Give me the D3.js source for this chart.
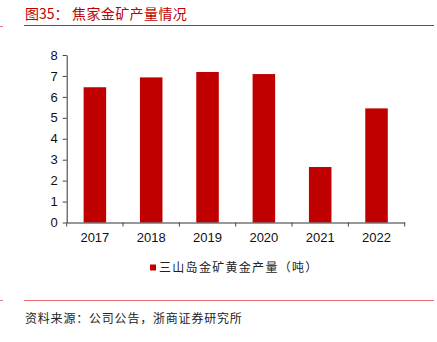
<!DOCTYPE html>
<html><head><meta charset="utf-8">
<script src="https://cdn.jsdelivr.net/npm/d3@7"></script>
<style>body{margin:0;background:#fff}svg{display:block}</style>
</head><body>
<script>
const categories = ["2017","2018","2019","2020","2021","2022"];
const values = [6.46, 6.93, 7.19, 7.09, 2.65, 5.45];
const yTicks = [0,1,2,3,4,5,6,7,8];
const seriesName = "三山岛金矿黄金产量（吨）";
const titleLabel = "图35：";
const titleText = "焦家金矿产量情况";
const sourceText = "资料来源：公司公告，浙商证券研究所";

const W = 437, H = 342;
const svg = d3.select("body").append("svg").attr("width", W).attr("height", H);

// header
svg.append("text").attr("x", 25).attr("y", 19).attr("fill", "#c00000")
  .style("font-family", "'Noto Sans CJK SC'").style("font-size", "14px").text(titleLabel);
svg.append("text").attr("x", 72).attr("y", 19).attr("fill", "#c00000")
  .style("font-family", "'Noto Sans CJK SC'").style("font-size", "14px").style("letter-spacing", "0.4px").text(titleText);
svg.append("line").attr("x1", 24).attr("x2", 434).attr("y1", 25.5).attr("y2", 25.5)
  .attr("stroke", "#c0282a").attr("stroke-width", 1.2);
svg.append("line").attr("x1", 0).attr("x2", 3).attr("y1", 26.5).attr("y2", 26.5)
  .attr("stroke", "#e08080").attr("stroke-width", 1);

// footer
svg.append("line").attr("x1", 24).attr("x2", 434).attr("y1", 300.5).attr("y2", 300.5)
  .attr("stroke", "#e86a6a").attr("stroke-width", 1.2);
svg.append("line").attr("x1", 0).attr("x2", 3).attr("y1", 300.5).attr("y2", 300.5)
  .attr("stroke", "#e08080").attr("stroke-width", 1);
svg.append("text").attr("x", 25).attr("y", 323).attr("fill", "#222")
  .style("font-family", "'Noto Sans CJK SC'").style("font-size", "12px").style("letter-spacing", "0.8px").text(sourceText);

// chart
const x = d3.scaleBand().domain(categories).range([66.7, 404.7]).paddingInner(0.6).paddingOuter(0.3);
const y = d3.scaleLinear().domain([0, 8]).range([222.5, 55]);

svg.selectAll("rect.bar").data(values).enter().append("rect").attr("class","bar")
  .attr("x", (d,i) => x(categories[i])).attr("width", x.bandwidth())
  .attr("y", d => y(d)).attr("height", d => y(0) - y(d)).attr("fill", "#c00000");

const yAxis = svg.append("g").attr("transform", "translate(66.7,0)")
  .call(d3.axisLeft(y).tickValues(yTicks).tickSize(4).tickSizeOuter(0).tickPadding(5));
const xAxis = svg.append("g").attr("transform", "translate(0,222.5)")
  .call(d3.axisBottom(x).tickSize(0).tickPadding(10));
const step = x.step();
const bounds = d3.range(categories.length + 1).map(i => 66.7 + i * step);
svg.selectAll("line.xt").data(bounds).enter().append("line").attr("class","xt")
  .attr("x1", d => d).attr("x2", d => d).attr("y1", 222.5).attr("y2", 226.5)
  .attr("stroke", "#444");

[yAxis, xAxis].forEach(g => {
  g.selectAll("path").attr("stroke", "#333");
  g.selectAll("line").attr("stroke", "#444");
  g.selectAll("text").attr("fill", "#111").style("font-family", "Arial, 'Liberation Sans'").style("font-size", "13px");
});

// legend
svg.append("rect").attr("x", 150).attr("y", 264.5).attr("width", 6).attr("height", 6).attr("fill", "#c00000");
svg.append("text").attr("x", 159).attr("y", 272).attr("fill", "#222")
  .style("font-family", "'Noto Sans CJK SC'").style("font-size", "12px").style("letter-spacing", "1.3px").text(seriesName);
</script>
</body></html>
